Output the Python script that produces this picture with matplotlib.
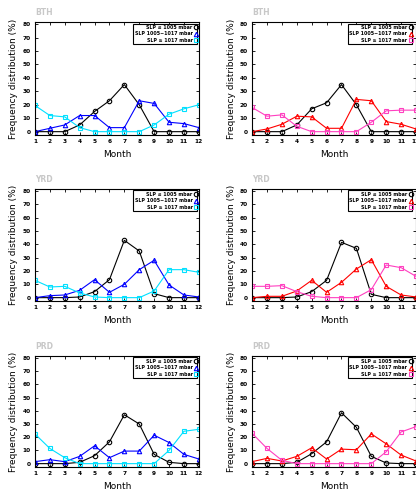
import matplotlib
matplotlib.use('Agg')
import matplotlib.pyplot as plt

months = list(range(1, 13))
titles = ['BTH', 'BTH', 'YRD', 'YRD', 'PRD', 'PRD']
labels = ['SLP \u2264 1005 mbar', 'SLP 1005\u22121017 mbar', 'SLP \u2265 1017 mbar']

# low / mid / high SLP frequency (%) per panel
low = [
    [0, 0, 0, 5, 15, 23, 35, 20, 0, 0, 0, 0],
    [0, 0, 0, 5, 17, 21.5, 35, 20, 0, 0, 0, 0],
    [0, 0, 0, 0.5, 4.5, 13.5, 43, 35, 3, 0, 0, 0],
    [0, 0, 0, 0.5, 4.5, 13, 41.5, 37, 2.5, 0, 0, 0],
    [0, 0, 0, 1, 6, 16.5, 37, 30, 7, 1, 0, 0],
    [0, 0, 0, 1, 7.5, 16.5, 38.5, 27.5, 5.5, 0.5, 0, 0],
]
mid = [
    [0, 2.5, 5, 12, 12, 3, 3, 23, 21, 7, 6, 3],
    [0, 2, 5.5, 11.5, 11, 2.5, 2.5, 24, 23, 7.5, 5.5, 2],
    [0, 1.5, 2, 5.5, 13.5, 4, 10, 21, 28, 9.5, 2, 0.5],
    [0, 1, 1, 5, 13, 4, 11.5, 21.5, 28.5, 8.5, 2, 0.5],
    [1.5, 3, 1.5, 5.5, 13.5, 4.5, 9.5, 9.5, 21.5, 16, 7, 3.5],
    [1.5, 4, 2, 5.5, 12, 3.5, 11, 10.5, 22.5, 15, 6.5, 2],
]
high = [
    [19.5, 12, 11, 3, 0, 0, 0, 0, 5, 13, 17, 20],
    [18, 11.5, 12.5, 4, 0, 0, 0, 0, 7, 15.5, 16, 16],
    [13, 8, 8.5, 3.5, 0.5, 0, 0, 0, 5, 21, 21, 19],
    [8.5, 8.5, 9, 4.5, 1, 0, 0, 0, 6, 24.5, 22.5, 16],
    [22.5, 11.5, 4.5, 0, 0, 0, 0, 0, 0, 10, 24.5, 26],
    [23, 11.5, 2.5, 0, 0, 0, 0, 0, 0, 9, 24, 28],
]

mid_colors = ['blue', 'red']
high_colors = ['#00e0ff', '#ff40c0']

fig = plt.figure(figsize=(4.16, 4.91), dpi=100)

lefts = [0.084, 0.606]
bottoms = [0.725, 0.387, 0.049]
heights = [0.230, 0.228, 0.226]
w = 0.394
leg_anchor = [(1.0, 1.0), (0.985, 1.0)]

for i in range(6):
    r = i // 2
    c = i % 2
    ax = fig.add_axes([lefts[c], bottoms[r], w, heights[r]])
    ax.plot(months, low[i], color='black', lw=0.8, marker='o', ms=3.2,
            mfc='none', mew=0.8, label=labels[0])
    ax.plot(months, mid[i], color=mid_colors[c], lw=0.8, marker='^', ms=3.2,
            mfc='none', mew=0.8, label=labels[1])
    ax.plot(months, high[i], color=high_colors[c], lw=0.8, marker='s', ms=3.2,
            mfc='none', mew=0.8, label=labels[2])
    ax.set_xlim(1, 12)
    ax.set_ylim(-2.5, 81.5)
    ax.set_xticks(months)
    ax.set_yticks(range(0, 81, 10))
    ax.tick_params(direction='in', top=True, right=True, length=2, width=0.6,
                   labelsize=4.2, pad=3)
    for lab in ax.get_xticklabels() + ax.get_yticklabels():
        lab.set_fontweight('bold')
    for s in ax.spines.values():
        s.set_linewidth(0.8)
    ax.set_xlabel('Month', fontsize=6.5, labelpad=4)
    ax.set_ylabel('Frequency distribution (%)', fontsize=6.5, labelpad=3)
    ax.text(0.0, 1.06, titles[i], transform=ax.transAxes, fontsize=5.5,
            color='#c8c8c8', fontweight='bold')
    leg = ax.legend(loc='upper right', bbox_to_anchor=leg_anchor[c],
                    fontsize=3.4, markerfirst=False,
                    handlelength=0, handletextpad=0.7, borderpad=0.3,
                    labelspacing=0.3, fancybox=False, framealpha=1,
                    edgecolor='black', borderaxespad=0.3)
    leg.get_frame().set_linewidth(0.8)
    for t in leg.get_texts():
        t.set_fontweight('bold')
        t.set_ha('right')

fig.savefig('out.png', dpi=100)
